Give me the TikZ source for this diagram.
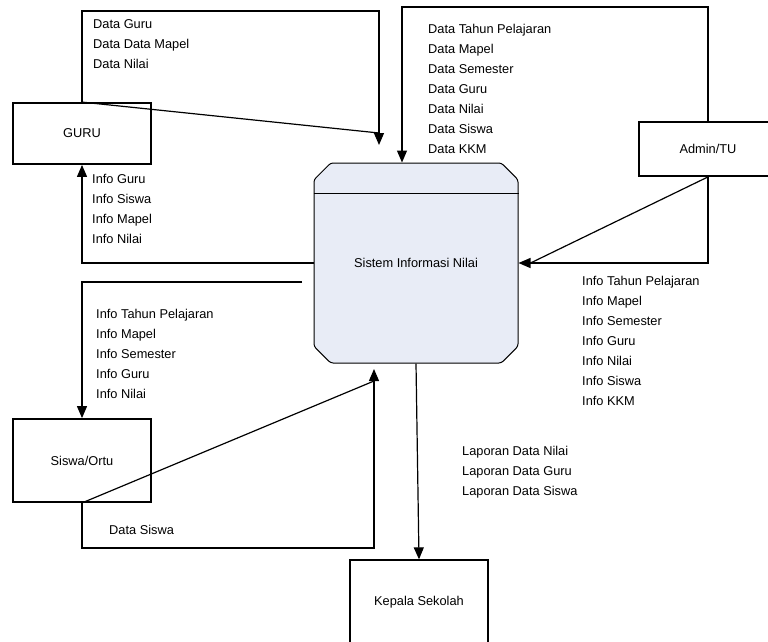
\documentclass[tikz,border=0pt]{standalone}
\usepackage{fontspec}
\setmainfont{Liberation Sans}
\usetikzlibrary{arrows.meta,shapes.misc}

\definecolor{sisfill}{RGB}{232,236,246}

\begin{document}
\begin{tikzpicture}[
  x=1pt,
  y=-1pt,
  >={Triangle[length=12pt,width=10pt]},
  every node/.style={font=\fontsize{12.8}{20}\selectfont},
  entity/.style={
    rectangle,
    draw,
    line width=1.8pt,
    minimum width=138pt,
    inner sep=0pt
  },
  process/.style={
    chamfered rectangle,
    chamfered rectangle xsep=11pt,
    chamfered rectangle ysep=12pt,
    rounded corners=2.5pt,
    draw,
    line width=1pt,
    fill=sisfill,
    minimum width=204pt,
    minimum height=200pt,
    inner sep=0pt
  },
  flow/.style={->, line width=1.2pt},
  link/.style={line width=1.2pt},
  note/.style={align=left, anchor=west, inner sep=0pt}
]

\useasboundingbox (0,0) rectangle (768,641);
\clip (0,0) rectangle (768,641);

\node[process] (sistem) at (416,263) {Sistem Informasi Nilai};
\draw[line width=1pt] (sistem.west |- 0,193) -- (sistem.east |- 0,193);

\node[entity, minimum height=61pt] (guru) at (82,133.5) {GURU};
\node[entity, minimum height=54pt] (admin) at (708,149) {Admin/TU};
\node[entity, minimum height=83pt] (siswa) at (82,460.5) {Siswa/Ortu};
\node[entity, minimum height=85pt, line width=1.3pt] (kepala) at (419,602.5) {Kepala Sekolah};

% Bends of the flows
\coordinate (gtop) at (379,11);
\coordinate (gtip) at (379,145);
\coordinate (atop) at (402,7);
\coordinate (sout) at (302,282);
\coordinate (sbot) at (374,548);
\coordinate (stip) at (374,369);

% Arrows
\draw[flow] (guru.north) |- (gtop) -- (gtip);
\draw[link] (guru.north) -- ([yshift=12pt]gtip);
\draw[flow] (sistem.west) -| (guru.south);
\draw[flow] (admin.north) |- (atop) -- (atop |- sistem.north);
\draw[flow] (admin.south) |- (sistem.east);
\draw[link] (admin.south) -- ([xshift=12pt]sistem.east);
\draw[flow] (sout) -| (siswa.north);
\draw[flow] (siswa.south) |- (sbot) -- (stip);
\draw[link] (siswa.south) -- ([yshift=-12pt]stip);
\draw[flow] (sistem.south) -- (kepala.north);

% Labels
\node[note] (guruin) at (93,44.5) {Data Guru\\Data Data Mapel\\Data Nilai};
\node[note] (adminin) at (428,88.5) {Data Tahun Pelajaran\\Data Mapel\\Data Semester\\Data Guru\\Data Nilai\\Data Siswa\\Data KKM};
\node[note] (guruout) at (92,208.5) {Info Guru\\Info Siswa\\Info Mapel\\Info Nilai};
\node[note] (siswaout) at (96,354) {Info Tahun Pelajaran\\Info Mapel\\Info Semester\\Info Guru\\Info Nilai};
\node[note] (adminout) at (582,340.5) {Info Tahun Pelajaran\\Info Mapel\\Info Semester\\Info Guru\\Info Nilai\\Info Siswa\\Info KKM};
\node[note] (laporan) at (462,472) {Laporan Data Nilai\\Laporan Data Guru\\Laporan Data Siswa};
\node[note] (siswain) at (109,530) {Data Siswa};

\end{tikzpicture}
\end{document}
